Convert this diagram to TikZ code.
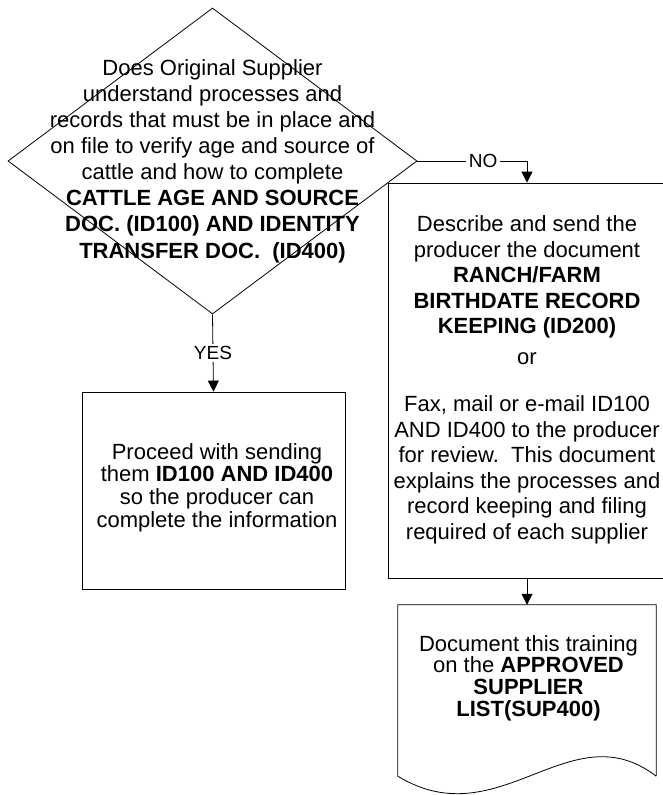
\documentclass[tikz,border=0pt]{standalone}
\usepackage{fontspec}
\setmainfont{Liberation Sans}
\usetikzlibrary{shapes.geometric,arrows.meta}
\begin{document}
\begin{tikzpicture}[x=1pt,y=-1pt,
  every node/.style={font=\fontsize{22}{26}\selectfont},
  shapeline/.style={draw=black,line width=0.8pt},
  boxnode/.style={shapeline,rectangle,inner sep=0pt,align=center},
  txt/.style={align=center,inner sep=0pt},
  conn/.style={draw=black,line width=0.8pt,-{Triangle[width=11pt,length=11pt]}},
  lbl/.style={fill=white,inner sep=2.5pt,font=\fontsize{19}{20}\selectfont}
]
\useasboundingbox (0,0) rectangle (663,795);
\clip (0,0) rectangle (663,795);
% decision
\node[shapeline,diamond,minimum width=409pt,minimum height=306pt,inner sep=0pt] (q) at (212.5,161) {};
\node[txt,font=\fontsize{22}{26.1}\selectfont] (qtext) at (q.center) {Does Original Supplier\\
understand processes and\\
records that must be in place and\\
on file to verify age and source of\\
cattle and how to complete\\
\textbf{CATTLE AGE AND SOURCE}\\
\textbf{DOC. (ID100) AND IDENTITY}\\
\textbf{TRANSFER DOC.\ \ (ID400)}};
% yes box
\node[boxnode,minimum width=263pt,minimum height=197pt] (yes) at (213.5,490.5) {};
\node[txt,font=\fontsize{22}{22.7}\selectfont] (yestext) at ([xshift=3.5pt,yshift=3pt]yes.center) {Proceed with sending\\
them \textbf{ID100 AND ID400}\\
so the producer can\\
complete the information};
% no box
\node[boxnode,minimum width=278pt,minimum height=395pt] (nobox) at (527,380.5) {};
\node[txt,font=\fontsize{22}{25.5}\selectfont] (notext) at ([yshift=0.5pt]nobox.center) {Describe and send the\\
producer the document\\
\textbf{RANCH/FARM}\\
\textbf{BIRTHDATE RECORD}\\
\textbf{KEEPING (ID200)}\\[5.5pt]
or\\[21.5pt]
Fax, mail or e-mail ID100\\
AND ID400 to the producer\\
for review.\ \ This document\\
explains the processes and\\
record keeping and filing\\
required of each supplier};
% document
\node[inner sep=0pt,minimum width=258pt,minimum height=171pt] (doc) at (527,690.5) {};
\draw[shapeline] (doc.south east) -- (doc.north east) -- (doc.north west) -- (doc.south west)
  .. controls +(102,62) and +(-86,-66) .. (doc.south east);
\node[txt,font=\fontsize{22}{21.7}\selectfont] (doctext) at ([xshift=1.5pt,yshift=12.5pt]doc.center) {Document this training\\
on the \textbf{APPROVED}\\
\textbf{SUPPLIER}\\
\textbf{LIST(SUP400)}};
% connectors
\draw[conn] (q.east) -| node[lbl,pos=0.3]{NO} (nobox.north);
\draw[conn] (q.south) -- node[lbl]{YES} (yes.north);
\draw[conn] (nobox.south) -- (doc.north);
\end{tikzpicture}
\end{document}
